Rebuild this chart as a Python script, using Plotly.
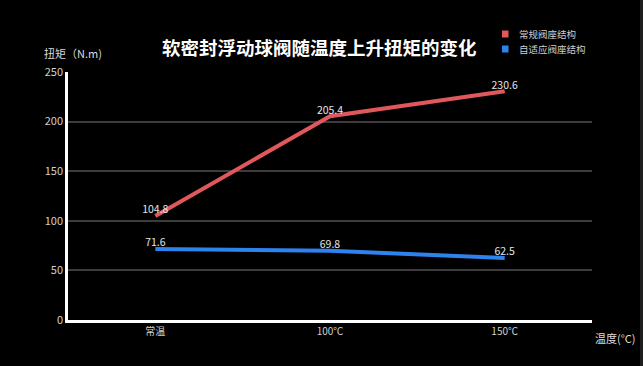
import plotly.graph_objects as go

categories = ["常温", "100℃", "150℃"]
series_names = ["常规阀座结构", "自适应阀座结构"]
conventional = [104.8, 205.4, 230.6]
adaptive = [71.6, 69.8, 62.5]
y_ticks = [0, 50, 100, 150, 200, 250]
title_text = "软密封浮动球阀随温度上升扭矩的变化"
y_title = "扭矩（N.m)"
x_title = "温度(°C)"

colors = ["#e0575c", "#2d82ee"]
FONT = "Noto Sans CJK SC, Noto Sans, sans-serif"

xs = list(range(len(categories)))
fig = go.Figure()
for name, vals, col in zip(series_names, [conventional, adaptive], colors):
    fig.add_trace(go.Scatter(
        x=xs, y=vals, mode="lines+text", name=name,
        line=dict(color=col, width=4),
        text=[f"{v:.1f}" for v in vals], textposition="top center",
        textfont=dict(color="#e6e6e6", size=10.5, family=FONT),
        showlegend=False, cliponaxis=False,
    ))

shapes = []
annotations = []
# custom legend (squares + labels)
for i, (name, col) in enumerate(zip(series_names, colors)):
    ypix = 34 + 15 * i
    shapes.append(dict(type="rect", xref="paper", yref="paper",
                       x0=(502 - 68) / 524, x1=(508.5 - 68) / 524,
                       y0=(320 - ypix - 3.5) / 248, y1=(320 - ypix + 3.5) / 248,
                       fillcolor=col, line=dict(width=0)))
    annotations.append(dict(text=name, xref="paper", yref="paper",
                            x=(517 - 68) / 524, y=(320 - ypix) / 248,
                            xanchor="left", yanchor="middle", showarrow=False,
                            font=dict(size=9.5, color="#cfcfcf", family=FONT)))

annotations.append(dict(text=f"<b>{title_text}</b>", xref="paper", yref="paper",
                        x=(319 - 68) / 524, y=(320 - 47) / 248,
                        xanchor="center", yanchor="middle", showarrow=False,
                        font=dict(size=18.5, color="#ffffff", family=FONT)))
annotations.append(dict(text=y_title, xref="paper", yref="paper",
                        x=(42 - 68) / 524, y=(320 - 53) / 248,
                        xanchor="left", yanchor="middle", showarrow=False,
                        font=dict(size=11, color="#dcdcdc", family=FONT)))
annotations.append(dict(text=x_title, xref="paper", yref="paper",
                        x=(593 - 68) / 524, y=(320 - 338) / 248,
                        xanchor="left", yanchor="middle", showarrow=False,
                        font=dict(size=11, color="#dcdcdc", family=FONT)))
# right edge strip
shapes.append(dict(type="rect", xref="paper", yref="paper",
                   x0=(640 - 68) / 524, x1=(644 - 68) / 524,
                   y0=-1, y1=2, fillcolor="#1e1e1e", line=dict(width=0), layer="below"))

fig.update_layout(
    width=643, height=366,
    margin=dict(l=68, r=51, t=72, b=46),
    paper_bgcolor="#000000", plot_bgcolor="#000000",
    font=dict(family=FONT, color="#d0d0d0"),
    shapes=shapes, annotations=annotations,
    xaxis=dict(range=[-0.5, 2.5], tickvals=xs, ticktext=categories,
               showgrid=False, zeroline=False, showline=True,
               linecolor="#ffffff", linewidth=2.5, ticks="",
               tickfont=dict(size=10, color="#d0d0d0", family=FONT),
               fixedrange=True),
    yaxis=dict(range=[0, 250], tickvals=y_ticks,
               showgrid=True, gridcolor="#3c3c3c", gridwidth=1.5,
               zeroline=False, showline=True, linecolor="#ffffff", linewidth=2.5,
               ticks="", tickfont=dict(size=11, color="#d0d0d0", family=FONT),
               fixedrange=True),
)

fig.write_html("out.html")
